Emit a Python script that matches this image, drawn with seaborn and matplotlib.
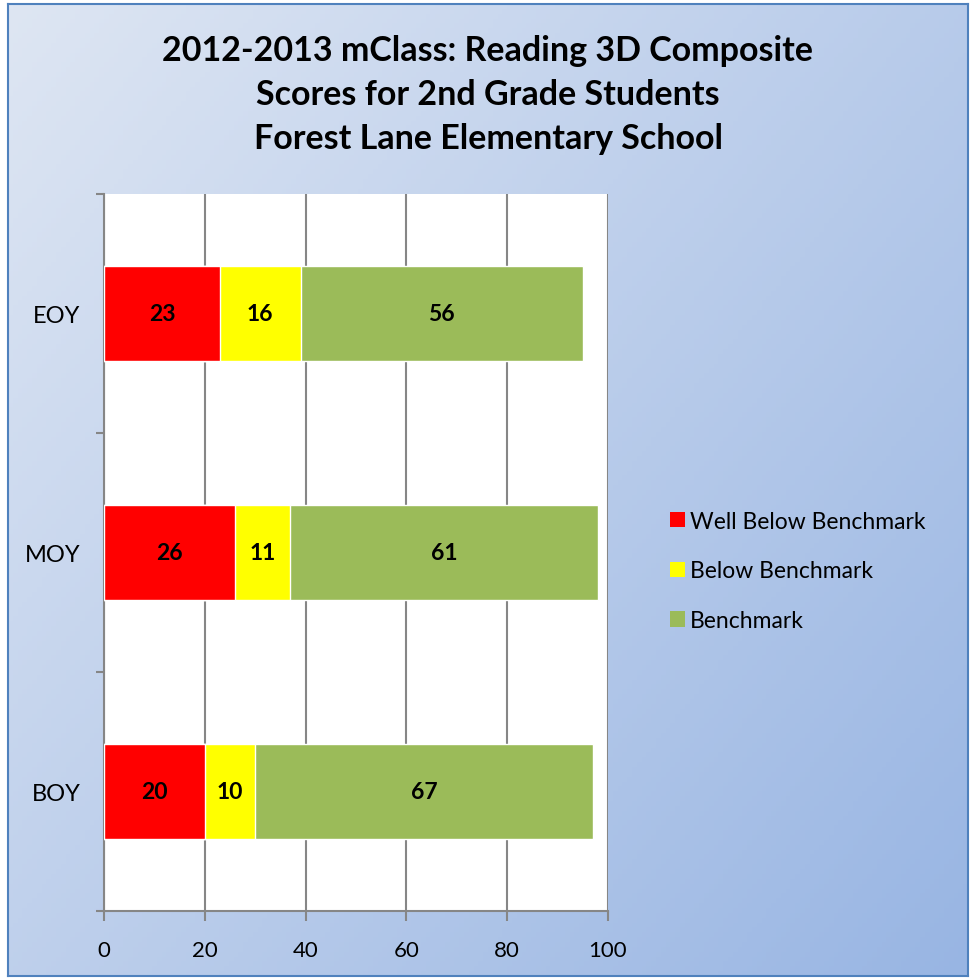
import numpy as np
import pandas as pd
import seaborn as sns
import matplotlib.pyplot as plt
from matplotlib.patches import Patch

# Datos del gráfico
periodos = ["EOY", "MOY", "BOY"]
well_below = [23, 26, 20]
below = [16, 11, 10]
benchmark = [56, 61, 67]
series = ["Well Below Benchmark", "Below Benchmark", "Benchmark"]
colores = ["#FF0000", "#FFFF00", "#9BBB59"]

sns.set_style("white")
plt.rcParams["font.family"] = ["Lato", "DejaVu Sans"]
plt.rcParams["text.color"] = "black"
plt.rcParams["xtick.color"] = "black"
plt.rcParams["ytick.color"] = "black"

df = pd.DataFrame({
    "Periodo": periodos,
    "wb": well_below,
    "b": below,
    "bm": benchmark,
})
df["c1"] = df["wb"]
df["c2"] = df["wb"] + df["b"]
df["c3"] = df["wb"] + df["b"] + df["bm"]

fig = plt.figure(figsize=(9.73, 9.79), dpi=100)
W, H = 973, 979

# Fondo con degradado
ax_bg = fig.add_axes([8 / W, 2 / H, 960 / W, 972 / H], zorder=0)
gx, gy = np.meshgrid(np.linspace(0, 1, 200), np.linspace(0, 1, 200))
t = (gx * 0.55 + gy * 0.45)
c0 = np.array([222, 230, 243]) / 255
c1 = np.array([152, 181, 227]) / 255
grad = c0 + (c1 - c0) * t[..., None]
ax_bg.imshow(grad, aspect="auto", extent=[0, 1, 0, 1], origin="upper")
ax_bg.set_xticks([])
ax_bg.set_yticks([])
for s in ax_bg.spines.values():
    s.set_color("#4F81BD")
    s.set_linewidth(1.5)

# Gráfico principal
ax = fig.add_axes([104 / W, 67 / H, 504 / W, 717 / H], zorder=1)
ax.set_facecolor("white")

sns.barplot(data=df, y="Periodo", x="c3", order=periodos, color=colores[2],
            width=0.4, saturation=1, ax=ax, zorder=3)
sns.barplot(data=df, y="Periodo", x="c2", order=periodos, color=colores[1],
            width=0.4, saturation=1, ax=ax, zorder=3)
sns.barplot(data=df, y="Periodo", x="c1", order=periodos, color=colores[0],
            width=0.4, saturation=1, ax=ax, zorder=3)

# Etiquetas de datos
for i in range(len(periodos)):
    ax.text(df["c1"][i] / 2, i, str(well_below[i]), ha="center", va="center",
            fontsize=16.5, fontweight="bold", zorder=4)
    ax.text(df["c1"][i] + below[i] / 2, i, str(below[i]), ha="center", va="center",
            fontsize=16.5, fontweight="bold", zorder=4)
    ax.text(df["c2"][i] + benchmark[i] / 2, i, str(benchmark[i]), ha="center", va="center",
            fontsize=16.5, fontweight="bold", zorder=4)

ax.set_xlim(0, 100)
ax.set_ylim(2.5, -0.5)
ax.set_xticks(range(0, 101, 20))
ax.set_xlabel("")
ax.set_ylabel("")
ax.xaxis.grid(True, color="#868686", linewidth=1.5, zorder=0)
ax.set_axisbelow(True)
ax.set_yticks([0.5, 1.5, 2.5, -0.5], minor=True)
ax.tick_params(axis="y", which="major", length=0, pad=17, labelsize=17)
ax.tick_params(axis="y", which="minor", length=6, width=1.5, color="#868686", left=True)
ax.tick_params(axis="x", which="major", length=7, width=1.5, color="#868686",
               bottom=True, pad=14, labelsize=16)
for s in ["top", "right"]:
    ax.spines[s].set_visible(False)
for s in ["left", "bottom"]:
    ax.spines[s].set_color("#868686")
    ax.spines[s].set_linewidth(1.5)

# Título
fig.text(488 / W, 1 - 95 / H,
         "2012-2013 mClass: Reading 3D Composite\nScores for 2nd Grade Students\nForest Lane Elementary School",
         ha="center", va="center", fontsize=24.5, fontweight="bold", linespacing=1.45)

# Leyenda
handles = [Patch(facecolor=c, edgecolor="none") for c in colores]
fig.legend(handles, series, loc="center left", bbox_to_anchor=(649 / W, 1 - 572 / H),
           frameon=False, fontsize=16.5, handlelength=0.65, handleheight=0.65,
           handletextpad=0.25, labelspacing=1.25)

fig.savefig("out.png", dpi=100)
